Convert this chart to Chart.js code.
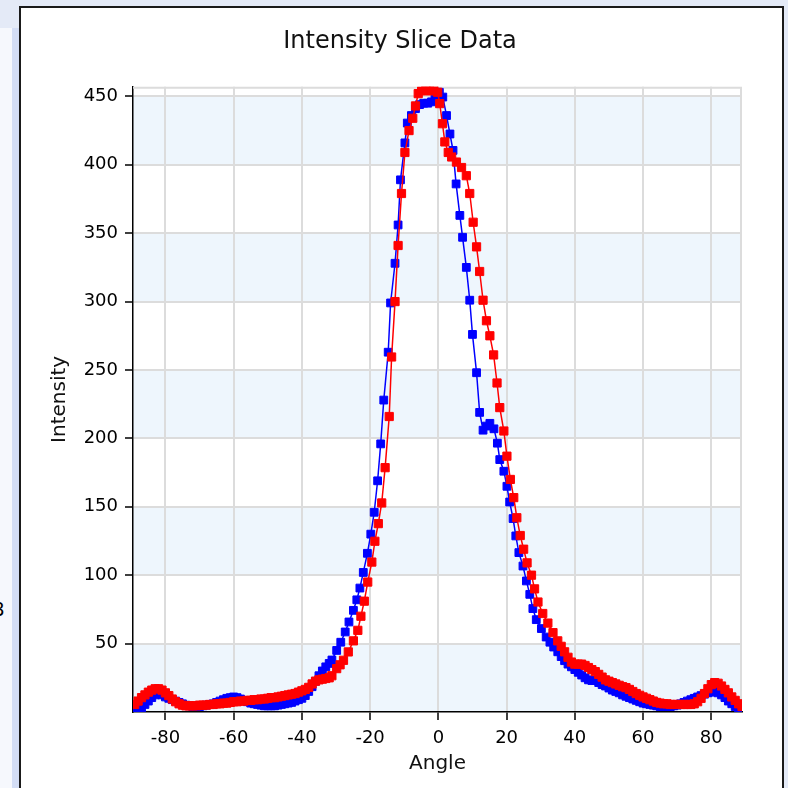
<!DOCTYPE html>
<html>
<head>
<meta charset="utf-8">
<script src="https://cdn.jsdelivr.net/npm/chart.js@4/dist/chart.umd.min.js"></script>
<style>
  html, body { margin: 0; padding: 0; }
  body { width: 788px; height: 788px; background: #e4eaf7; position: relative; overflow: hidden; font-family: "DejaVu Sans", sans-serif; }
  #leftpanel { position: absolute; left: 0; top: 28px; width: 12px; height: 760px; background: #f6f8fd; }
  #leftstrip { position: absolute; left: 12px; top: 28px; width: 7px; height: 760px; background: #d3ddf5; }
  #frame { position: absolute; left: 19px; top: 6px; width: 761px; height: 800px; border: 2px solid #1a1a1a; background: #ffffff; }
  #cut { position: absolute; left: -7px; top: 598px; font-size: 20px; color: #000; font-family: "Liberation Sans", sans-serif; }
  #c { position: absolute; left: 0; top: 0; }
</style>
</head>
<body>
<div id="leftpanel"></div>
<div id="leftstrip"></div>
<div id="cut">3</div>
<div id="frame"></div>
<canvas id="c" width="788" height="788"></canvas>
<script>
const chartTitle = 'Intensity Slice Data';
const xTitle = 'Angle';
const yTitle = 'Intensity';

const blueAngle = [
  -89, -88, -87, -86, -85, -84, -83, -82, -81, -80, -79, -78, -77, -76, -75, -74, -73, -72, -71, -70,
  -69, -68, -67, -66, -65, -64, -63, -62, -61, -60, -59, -58, -57, -56, -55, -54, -53, -52, -51, -50,
  -49, -48, -47, -46, -45, -44, -43, -42, -41, -40, -39, -38, -37, -36, -35, -34, -33, -32,
  -31.2, -29.8, -28.6, -27.3, -26.2, -24.9, -23.9, -23.0, -22.0, -20.8, -19.8, -18.8, -17.8, -16.9, -16.0,
  -14.7, -14.0, -12.7, -11.8, -11.1, -9.8, -9.1, -7.9, -6.7, -5.5, -4.3, -3.1, -2.0, -1.0, 0.3, 1.3,
  2.4, 3.4, 4.3, 5.2, 6.3, 7.1, 8.2, 9.2, 10.0, 11.2, 12.1, 13.1, 14.1, 15.1, 16.3, 17.3, 18.0, 19.2,
  20.1, 20.9, 21.9, 22.7, 23.6, 24.8, 25.8, 26.8, 27.7, 28.7, 30.2, 31.6, 32.7, 33.8,
  35, 36, 37, 38, 39, 40, 41, 42, 43, 44, 45, 46, 47, 48, 49, 50, 51, 52, 53, 54, 55, 56, 57, 58, 59,
  60, 61, 62, 63, 64, 65, 66, 67, 68, 69, 70, 71, 72, 73, 74, 75, 76, 77, 78, 79, 80, 81, 82, 83, 84,
  85, 86, 87, 88, 89
];
const blueIntensity = [
  0.5, 1.5, 3, 5.5, 8, 10.5, 12.5, 13.5, 12.5, 11, 10, 9, 8, 7, 6, 5, 4.5, 4, 4, 4,
  4.5, 5, 5.5, 6, 7, 8, 9, 10, 10.5, 11, 10.5, 9.5, 8.5, 7.5, 6.5, 6, 5.5, 5, 4.5, 4.5,
  4.5, 4.5, 5, 5.5, 6, 6.5, 7, 8, 9, 10, 12, 15, 18.5, 22.5, 26.5, 30, 33, 35.5,
  38, 45, 51, 58.5, 65.8, 74.3, 82, 90.6, 102, 116, 130, 146, 169, 196, 228,
  263, 299, 328, 356, 389, 416, 430.5, 436, 441, 444, 445, 445, 446, 448, 453, 449.5,
  436, 422.5, 410.5, 386, 363, 347, 325, 301, 276, 248, 219, 206, 209, 211, 207, 196.5, 184.5, 176,
  165, 153.5, 141.4, 128.7, 116.5, 106.7, 95.8, 86, 75.6, 67.5, 61, 54.8, 51, 47.5,
  44, 40.5, 37.5, 35, 33, 31, 29, 27, 25, 23.5, 23, 23, 21.5, 20, 19, 17.5, 16, 15, 14, 12.5, 11.5, 10.5, 9.5, 8.5, 7.5,
  6.5, 6, 5.5, 5, 4.5, 4, 4, 4, 4, 4.5, 5, 6, 7, 8, 9, 10, 11, 12, 13, 14, 14.5, 15, 14, 12.5, 10.5,
  8, 6, 4, 2.5, 1
];

const redAngle = [
  -89, -88, -87, -86, -85, -84, -83, -82, -81, -80, -79, -78, -77, -76, -75, -74, -73, -72, -71, -70,
  -69, -68, -67, -66, -65, -64, -63, -62, -61, -60, -59, -58, -57, -56, -55, -54, -53, -52, -51, -50,
  -49, -48, -47, -46, -45, -44, -43, -42, -41, -40, -39, -38, -37, -36, -35, -34, -33, -32,
  -31.2, -29.8, -28.8, -27.8, -26.4, -24.9, -23.6, -22.7, -21.7, -20.7, -19.5, -18.6, -17.6, -16.6, -15.6,
  -14.4, -13.7, -12.7, -11.8, -10.8, -9.8, -8.6, -7.5, -6.7, -5.9, -4.9, -3.7, -2.5, -1.3, -0.2, 0.4,
  1.2, 1.9, 2.9, 3.9, 5.3, 6.8, 8.2, 9.2, 10.2, 11.2, 12.1, 13.1, 14.1, 15.1, 16.2, 17.2, 18.0, 19.2,
  20.1, 21.1, 22.1, 23.0, 24.0, 25.0, 26.0, 27.3, 28.2, 29.2, 30.6, 32.1, 33.6, 35.0,
  36, 37, 38, 39, 40, 41, 42, 43, 44, 45, 46, 47, 48, 49, 50, 51, 52, 53, 54, 55, 56, 57, 58, 59,
  60, 61, 62, 63, 64, 65, 66, 67, 68, 69, 70, 71, 72, 73, 74, 75, 76, 77, 78, 79, 80, 81, 82, 83, 84,
  85, 86, 87, 88, 89
];
const redIntensity = [
  5.5, 8, 10.5, 12.5, 14.5, 16, 17, 17, 16, 14, 12, 9.5, 7.5, 6, 5, 4.5, 4.5, 4.5, 4.5, 5,
  5, 5, 5.5, 5.5, 6, 6, 6.5, 6.5, 7, 7.5, 7.5, 8, 8, 8.5, 8.5, 9, 9, 9.5, 9.5, 10,
  10.5, 10.5, 11, 11.5, 12, 12.5, 13, 13.5, 14.5, 15.5, 16.5, 18, 20.5, 22.5, 23.5, 24, 24.5, 25,
  26.5, 31.7, 34.5, 37.8, 43.9, 52, 59.7, 70, 81, 95, 109.6, 124.8, 137.7, 152.8, 178.6,
  216, 259.5, 300, 341, 379, 409, 425, 434, 443, 452, 454, 454.5, 454, 454.5, 453, 444.7,
  430, 416.7, 409, 405.7, 402, 398, 392, 379, 358, 340, 322, 301, 286, 275, 261, 240.5, 222.5, 205.4,
  187, 170, 156.7, 142, 129, 119, 109, 100, 90, 80.4, 72, 65, 58, 52,
  48, 44, 40, 36.5, 35, 35, 35, 34, 32.5, 31, 29.5, 27.5, 25.5, 23.5, 22.5, 21.5, 20.5, 19.5, 18.5, 17.8, 16.5, 15, 13.5, 12.2,
  11, 10, 9, 8, 7, 6.5, 6, 6, 5.5, 5.5, 5.5, 5.5, 5.5, 5.5, 5.5, 6, 7.5, 10, 13.5, 17, 20, 21.5, 21, 19, 16.5,
  14, 11, 8.5, 6, 4
];

const yTickValues = [0, 50, 100, 150, 200, 250, 300, 350, 400, 450];
const xTickValues = [-80, -60, -40, -20, 0, 20, 40, 60, 80];

const FONT = '"DejaVu Sans", sans-serif';
const BAND = '#eef6fd';
const GRID = '#dcdcdc';

const toPts = (xs, ys) => xs.map((x, i) => ({ x: x, y: ys[i] }));

const bandPlugin = {
  id: 'bands',
  beforeDraw(chart) {
    const { ctx, chartArea: a, scales: { y } } = chart;
    ctx.save();
    ctx.fillStyle = BAND;
    for (let i = 0; i < yTickValues.length; i += 2) {
      const v0 = yTickValues[i];
      const v1 = i + 1 < yTickValues.length ? yTickValues[i + 1] : y.max;
      const p0 = y.getPixelForValue(v0), p1 = y.getPixelForValue(v1);
      ctx.fillRect(a.left, p1, a.right - a.left, p0 - p1);
    }
    ctx.restore();
  },
  beforeDatasetsDraw(chart) {
    const { ctx, chartArea: a } = chart;
    ctx.save();
    ctx.strokeStyle = GRID;
    ctx.lineWidth = 2;
    ctx.beginPath();
    ctx.moveTo(a.left, a.top + 1);
    ctx.lineTo(a.right, a.top + 1);
    ctx.moveTo(a.right - 1, a.top);
    ctx.lineTo(a.right - 1, a.bottom);
    ctx.stroke();
    ctx.restore();
  }
};

new Chart(document.getElementById('c'), {
  type: 'scatter',
  data: {
    datasets: [
      {
        label: 'Red',
        data: toPts(redAngle, redIntensity),
        showLine: true,
        borderColor: '#ff0000',
        backgroundColor: '#ff0000',
        pointBackgroundColor: '#ff0000',
        pointBorderColor: '#ff0000',
        borderWidth: 1.5,
        pointStyle: 'rect',
        pointRadius: 5.8,
        pointBorderWidth: 1,
        tension: 0,
        clip: 0
      },
      {
        label: 'Blue',
        data: toPts(blueAngle, blueIntensity),
        showLine: true,
        borderColor: '#0000ff',
        backgroundColor: '#0000ff',
        pointBackgroundColor: '#0000ff',
        pointBorderColor: '#0000ff',
        borderWidth: 1.5,
        pointStyle: 'rect',
        pointRadius: 5.5,
        pointBorderWidth: 1,
        tension: 0,
        clip: 0
      }
    ]
  },
  options: {
    responsive: false,
    animation: false,
    devicePixelRatio: 1,
    layout: { padding: { left: 58, right: 46, top: 0, bottom: 0 } },
    plugins: {
      legend: { display: false },
      tooltip: { enabled: false },
      title: {
        display: true,
        text: chartTitle,
        color: '#111111',
        font: { family: FONT, size: 24, weight: 'normal' },
        padding: { top: 27, bottom: 31 }
      }
    },
    scales: {
      x: {
        type: 'linear',
        min: -89.5,
        max: 89,
        afterFit: (s) => { s.height = 76; },
        afterBuildTicks: (s) => { s.ticks = xTickValues.map(v => ({ value: v })); },
        ticks: {
          stepSize: 20,
          includeBounds: false,
          color: '#000000',
          padding: 8,
          font: { family: FONT, size: 18 },
          maxRotation: 0
        },
        grid: {
          color: GRID,
          lineWidth: 2,
          tickColor: '#000000',
          tickLength: 8,
          tickWidth: 1.5
        },
        border: { color: '#000000', width: 1.5 },
        title: {
          display: true,
          text: xTitle,
          color: '#111111',
          font: { family: FONT, size: 20 },
          padding: { top: 0, bottom: 12 }
        }
      },
      y: {
        type: 'linear',
        min: 0,
        max: 457,
        afterFit: (s) => { s.width = 75; },
        afterBuildTicks: (s) => { s.ticks = yTickValues.map(v => ({ value: v })); },
        ticks: {
          stepSize: 50,
          includeBounds: false,
          color: '#000000',
          padding: 7,
          font: { family: FONT, size: 18 },
          callback: (v) => (v === 0 ? '' : String(v))
        },
        grid: {
          color: (c) => (c.tick && c.tick.value === 0 ? 'rgba(0,0,0,0)' : GRID),
          lineWidth: 2,
          tickColor: (c) => (c.tick && c.tick.value === 0 ? 'rgba(0,0,0,0)' : '#000000'),
          tickLength: 8,
          tickWidth: 1.5
        },
        border: { color: '#000000', width: 1.5 },
        title: {
          display: true,
          text: yTitle,
          color: '#111111',
          font: { family: FONT, size: 20 },
          padding: { top: -10, bottom: 0 }
        }
      }
    }
  },
  plugins: [bandPlugin]
});
</script>
</body>
</html>
